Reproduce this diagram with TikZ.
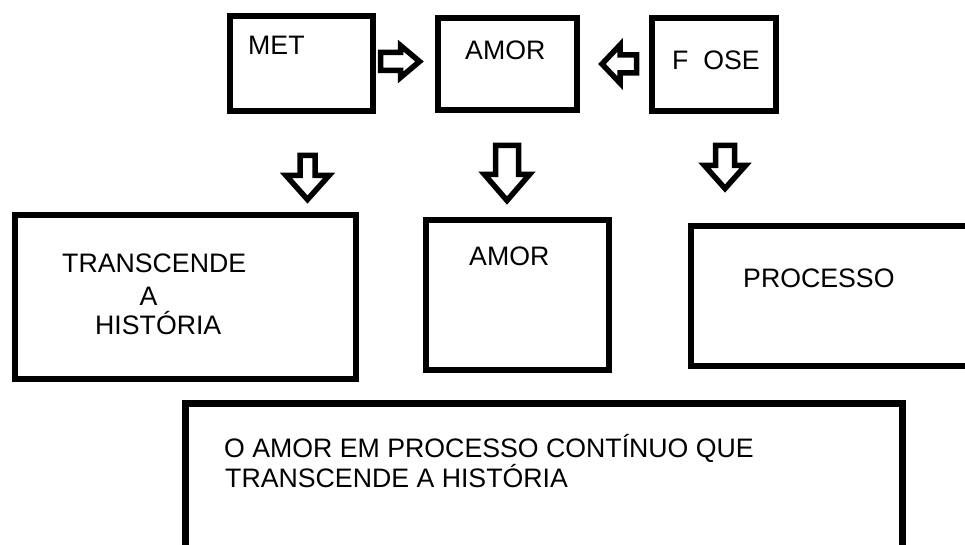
\documentclass[tikz,border=0pt]{standalone}
\usepackage{fontspec}
\setmainfont{Liberation Sans}
\begin{document}
\begin{tikzpicture}[x=1pt,y=-1pt,
  box/.style={draw=black, line width=6.5pt, rectangle, inner sep=0pt},
  lbl/.style={anchor=base west, inner sep=0pt, text=black, font=\fontsize{26.7}{30}\selectfont},
  blockarrow/.style={draw=black, line width=5.5pt, line join=miter, fill=white}]
\useasboundingbox (0,0) rectangle (965,545);
\fill[white] (0,0) rectangle (965,545);
\begin{scope}
\clip (0,0) rectangle (965,545);
% top row boxes
\node[box, minimum width=143pt, minimum height=95pt] (met) at (301.5,63.5) {};
\node[box, minimum width=139pt, minimum height=92pt] (amor1) at (507.5,64) {};
\node[box, minimum width=124pt, minimum height=93pt] (fose) at (714,64.5) {};
% middle row boxes
\node[box, minimum width=341pt, minimum height=164pt] (trans) at (185.5,297) {};
\node[box, minimum width=183pt, minimum height=150pt] (amor2) at (517.5,295) {};
\node[box, minimum width=309pt, minimum height=140pt] (proc) at (845.5,296) {};
% bottom box
\node[box, line width=7pt, minimum width=717pt, minimum height=157pt] (final) at (544,482) {};
\end{scope}
% labels
\node[lbl] (tmet) at (248,55) {MET};
\node[lbl] (tamor1) at (465,60) {AMOR};
\node[lbl] (tfose) at (672,70) {F\ \ OSE};
\node[lbl] (ttrans1) at (62,272) {TRANSCENDE};
\node[lbl] (ttrans2) at (139.5,305) {A};
\node[lbl] (ttrans3) at (95,334) {HISTÓRIA};
\node[lbl] (tamor2) at (469,265) {AMOR};
\node[lbl] (tproc) at (743,287) {PROCESSO};
\node[lbl] (tfinal1) at (224,457) {O AMOR EM PROCESSO CONTÍNUO QUE};
\node[lbl] (tfinal2) at (225,487) {TRANSCENDE A HISTÓRIA};
% block arrows between top boxes
\coordinate (ra) at (380.5,61.5);
\draw[blockarrow] (ra) ++(0,-9) -- ++(20,0) -- ++(0,-7) -- ++(19,16) -- ++(-19,16) -- ++(0,-7) -- ++(-20,0) -- cycle;
\coordinate (la) at (636.5,64);
\draw[blockarrow] (la) ++(0,-9) -- ++(-16.5,0) -- ++(0,-10) -- ++(-18,19) -- ++(18,19) -- ++(0,-10) -- ++(16.5,0) -- cycle;
% block arrows down
\coordinate (da1) at (307.5,155.5);
\draw[blockarrow] (da1) ++(-7.5,0) -- ++(15,0) -- ++(0,20) -- ++(14,0) -- ++(-21.5,24) -- ++(-21.5,-24) -- ++(14,0) -- cycle;
\coordinate (da2) at (507,145.5);
\draw[blockarrow] (da2) ++(-11.5,0) -- ++(23,0) -- ++(0,29) -- ++(11,0) -- ++(-22.5,26) -- ++(-22.5,-26) -- ++(11,0) -- cycle;
\coordinate (da3) at (725,145.5);
\draw[blockarrow] (da3) ++(-9.5,0) -- ++(19,0) -- ++(0,20) -- ++(11,0) -- ++(-20.5,23) -- ++(-20.5,-23) -- ++(11,0) -- cycle;
\end{tikzpicture}
\end{document}
